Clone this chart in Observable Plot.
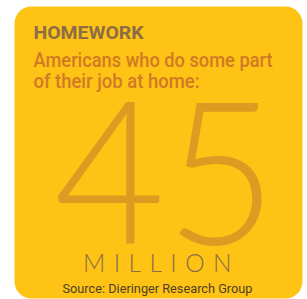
<!DOCTYPE html>
<html>
<head>
<meta charset="utf-8">
<script src="https://cdn.jsdelivr.net/npm/d3@7"></script>
<script src="https://cdn.jsdelivr.net/npm/@observablehq/plot@0.6"></script>
<style>
  html, body { margin: 0; padding: 0; background: #ffffff; }
  svg { display: block; }
</style>
</head>
<body>
<div id="chart"></div>
<script>
// ---- data ----
const titles = ["HOMEWORK"];
const subtitleLines = ["Americans who do some part", "of their job at home:"];
const values = [45];
const units = ["MILLION"];
const sources = ["Source: Dieringer Research Group"];

const sans = "Roboto, 'Noto Sans', 'DejaVu Sans', sans-serif";
const light = "Lato, 'Open Sans', 'Noto Sans', sans-serif";

const chart = Plot.plot({
  width: 307,
  height: 299,
  marginLeft: 14,
  marginTop: 6,
  marginRight: 5,
  marginBottom: 1,
  style: { background: "#ffffff", overflow: "visible" },
  marks: [
    Plot.frame({ fill: "#FEC314", stroke: null, rx: 17 }),
    Plot.text(titles, {
      text: d => d, frameAnchor: "top-left", lineAnchor: "bottom",
      dx: 19, dy: 32, fontFamily: sans, fontWeight: "bold",
      fontSize: 18, fill: "#8C6D46"
    }),
    Plot.text([subtitleLines[0]], {
      text: d => d, frameAnchor: "top-left", lineAnchor: "bottom",
      dx: 19, dy: 60.5, fontFamily: sans, fontWeight: 500,
      fontSize: 21, fill: "#D07A26"
    }),
    Plot.text([subtitleLines[1]], {
      text: d => d, frameAnchor: "top-left", lineAnchor: "bottom",
      dx: 19, dy: 81.5, fontFamily: sans, fontWeight: 500,
      fontSize: 21, fill: "#D07A26"
    }),
    Plot.text(values, {
      text: d => String(d), frameAnchor: "top", lineAnchor: "bottom",
      dx: 7, dy: 237, fontFamily: light, fontWeight: 300,
      fontSize: 200, fill: "#DF9B21"
    }),
    Plot.text(units, {
      text: d => d, frameAnchor: "top", lineAnchor: "bottom",
      dx: 3, dy: 265, fontFamily: light, fontWeight: 300,
      fontSize: 24.5, fill: "#8C6D46"
    }),
    Plot.text(sources, {
      text: d => d, frameAnchor: "top", lineAnchor: "bottom",
      dx: -1, dy: 286, fontFamily: sans,
      fontSize: 13.5, fill: "#4F3F24"
    })
  ]
});

const svg = d3.select(chart);
svg.selectAll("g[aria-label='frame'] rect, rect[aria-label='frame']").attr("rx", 17).attr("ry", 17);
const groups = svg.selectAll("g[aria-label='text']").nodes();
// fitted widths (advance) per text block, and letter spacing
const fit = [110, 239, 166, 223, null, 190];
const spacing = [null, null, null, null, "8.5px", null];
groups.forEach((g, i) => {
  const sel = d3.select(g);
  if (spacing[i]) sel.style("letter-spacing", spacing[i]);
  if (fit[i]) sel.selectAll("text").attr("textLength", fit[i]).attr("lengthAdjust", "spacingAndGlyphs");
});
document.getElementById("chart").appendChild(chart);
</script>
</body>
</html>
